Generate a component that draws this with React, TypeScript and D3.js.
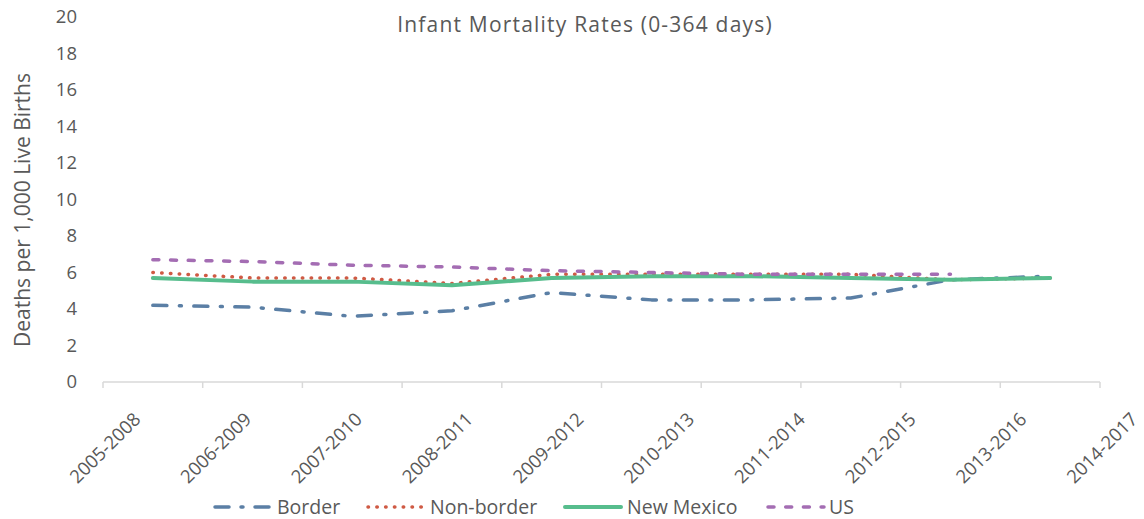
import React, { useEffect, useRef } from "react";
import * as d3 from "d3";

const categories = ["2005-2008","2006-2009","2007-2010","2008-2011","2009-2012","2010-2013","2011-2014","2012-2015","2013-2016","2014-2017"];
const border = [4.2, 4.1, 3.6, 3.9, 4.9, 4.5, 4.5, 4.6, 5.6, 5.8];
const nonBorder = [6.0, 5.7, 5.7, 5.4, 5.9, 5.9, 5.9, 5.9, 5.6, 5.7];
const newMexico = [5.7, 5.5, 5.5, 5.3, 5.7, 5.8, 5.8, 5.7, 5.6, 5.7];
const us: (number | null)[] = [6.7, 6.6, 6.4, 6.3, 6.1, 6.0, 5.9, 5.9, 5.9, null];
const yTicks = [0, 2, 4, 6, 8, 10, 12, 14, 16, 18, 20];

const series = [
  { name: "Border", values: border, color: "#5b7fa5", dash: "14 12.5 2 12.5", width: 3.5, legendDash: "14 12 2 12" },
  { name: "Non-border", values: nonBorder, color: "#cf5a44", dash: "0.5 8.3", width: 3.5, legendDash: "0.5 8.3" },
  { name: "New Mexico", values: newMexico, color: "#57bd8d", dash: "none", width: 4, legendDash: "none" },
  { name: "US", values: us, color: "#a46db3", dash: "6 11.7", width: 3.5, legendDash: "6 11.7" },
];

const legendPos = [
  { x: 213, tx: 277 },
  { x: 366, tx: 430 },
  { x: 563, tx: 627 },
  { x: 766, tx: 829 },
];

const W = 1144, H = 519;
const FONT = "'Open Sans', 'Noto Sans', sans-serif";
const TXT = "#595959";

export default function App() {
  const ref = useRef<SVGSVGElement>(null);
  useEffect(() => {
    const svg = d3.select(ref.current);
    svg.selectAll("*").remove();
    const x = d3.scaleBand<string>().domain(categories).range([103, 1100]).paddingInner(0).paddingOuter(0);
    const xl = d3.scalePoint<string>().domain(categories).range([103, 1100]);
    const y = d3.scaleLinear().domain([0, 20]).range([382, 17]);

    // title
    svg.append("text").attr("x", 585).attr("y", 32).attr("text-anchor", "middle")
      .attr("font-family", FONT).attr("font-size", 21).attr("letter-spacing", 1.2).attr("fill", TXT)
      .text("Infant Mortality Rates (0-364 days)");

    // y ticks
    svg.append("g").selectAll("text").data(yTicks).join("text")
      .attr("x", 77).attr("y", d => y(d)).attr("dy", "0.35em").attr("text-anchor", "end")
      .attr("font-family", FONT).attr("font-size", 18.5).attr("fill", TXT)
      .text(d => String(d));

    // y title
    svg.append("text").attr("transform", `translate(30,${210}) rotate(-90)`).attr("text-anchor", "middle")
      .attr("font-family", FONT).attr("font-size", 21).attr("fill", TXT)
      .text("Deaths per 1,000 Live Births");

    // x axis line + ticks
    const edges = categories.map(c => x(c) as number).concat([1100]);
    const ax = svg.append("g");
    ax.append("line").attr("x1", 103).attr("x2", 1100).attr("y1", y(0)).attr("y2", y(0))
      .attr("stroke", "#d9d9d9").attr("stroke-width", 1.5);
    ax.selectAll("line.tk").data(edges).join("line").attr("class", "tk")
      .attr("x1", d => d).attr("x2", d => d).attr("y1", y(0)).attr("y2", y(0) + 6)
      .attr("stroke", "#d9d9d9").attr("stroke-width", 1.5);

    // x labels
    svg.append("g").selectAll("text").data(categories).join("text")
      .attr("transform", d => `translate(${(xl(d) as number) + 2},448) rotate(-45)`)
      .attr("text-anchor", "middle").attr("dy", "0.35em")
      .attr("font-family", FONT).attr("font-size", 18.5).attr("fill", TXT)
      .text(d => d);

    // lines
    const line = d3.line<number | null>()
      .defined(d => d != null)
      .x((_, i) => (x(categories[i]) as number) + x.bandwidth() / 2)
      .y(d => y(d as number));
    series.forEach(s => {
      svg.append("path").attr("d", line(s.values as (number | null)[]) || "")
        .attr("fill", "none").attr("stroke", s.color).attr("stroke-width", s.width)
        .attr("stroke-dasharray", s.dash).attr("stroke-linecap", "round").attr("stroke-linejoin", "round");
    });

    // legend
    const lg = svg.append("g");
    series.forEach((s, i) => {
      const p = legendPos[i];
      lg.append("line").attr("x1", p.x + 2).attr("x2", p.x + 58).attr("y1", 507).attr("y2", 507)
        .attr("stroke", s.color).attr("stroke-width", s.width)
        .attr("stroke-dasharray", s.legendDash).attr("stroke-linecap", "round");
      lg.append("text").attr("x", p.tx).attr("y", 507).attr("dy", "0.35em")
        .attr("font-family", FONT).attr("font-size", 19.5).attr("fill", TXT)
        .text(s.name);
    });
  }, []);
  return (
    <svg ref={ref} width={W} height={H} style={{ position: "absolute", left: 0, top: 0, background: "#fff" }} />
  );
}
